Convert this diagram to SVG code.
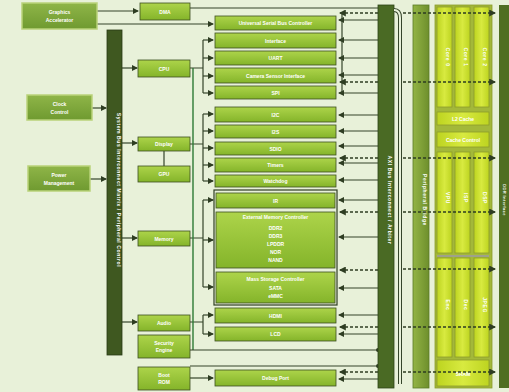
<svg xmlns="http://www.w3.org/2000/svg" width="509" height="392" viewBox="0 0 509 392">
<defs>
<linearGradient id="gBox" x1="0" y1="0" x2="0" y2="1"><stop offset="0" stop-color="#add44a"/><stop offset="1" stop-color="#84b42a"/></linearGradient>
<linearGradient id="gLeft" x1="0" y1="0" x2="0" y2="1"><stop offset="0" stop-color="#8fb548"/><stop offset="1" stop-color="#6f9a30"/></linearGradient>
<linearGradient id="gCol" x1="0" y1="0" x2="1" y2="0"><stop offset="0" stop-color="#bdd420"/><stop offset="0.5" stop-color="#d8ea40"/><stop offset="1" stop-color="#bdd420"/></linearGradient>
<linearGradient id="gMed" x1="0" y1="0" x2="1" y2="0"><stop offset="0" stop-color="#93b445"/><stop offset="1" stop-color="#6e8f2c"/></linearGradient>
<marker id="ar" viewBox="0 0 6 6" refX="5" refY="3" markerWidth="5" markerHeight="5" orient="auto-start-reverse"><path d="M0,0 L6,3 L0,6 z" fill="#2e3d22"/></marker>
<marker id="dt" viewBox="0 0 6 6" refX="3" refY="3" markerWidth="4" markerHeight="4"><circle cx="3" cy="3" r="2.5" fill="#2e3d22"/></marker>
</defs>
<style>
.bx{fill:url(#gBox);stroke:#3d4f22;stroke-width:0.8}
.lb{fill:url(#gLeft);stroke:#b9d27a;stroke-width:1.5}
.t{font-family:"Liberation Sans",Arial,sans-serif;font-size:5px;fill:#ffffff;text-anchor:middle;font-weight:bold}
.tv{font-family:"Liberation Sans",Arial,sans-serif;font-size:5px;fill:#ffffff;text-anchor:middle;font-weight:bold;letter-spacing:0.6px}
.ln{stroke:#35452a;stroke-width:1.2;fill:none}
.gl{stroke:#2d7a34;stroke-width:1.4;fill:none}
.ds{stroke:#2e3d22;stroke-width:1.4;fill:none;stroke-dasharray:3 2}
.col{fill:url(#gCol);stroke:#8c9c2c;stroke-width:0.8}
</style>
<rect width="509" height="392" fill="#e8f1d9"/>

<g id="connectors">
<path class="ln" d="M97,11 H138" marker-end="url(#ar)"/>
<path class="ln" d="M97,24 H213" marker-end="url(#ar)"/>
<path class="ln" d="M190,8 H378"/>
<path class="ln" d="M92,108 H106" marker-end="url(#ar)"/>
<path class="ln" d="M90,179 H106" marker-end="url(#ar)"/>
<path class="ln" d="M122,68 H137" marker-end="url(#ar)"/>
<path class="ln" d="M122,143 H137" marker-end="url(#ar)"/>
<path class="ln" d="M122,238 H137" marker-end="url(#ar)"/>
<path class="ln" d="M122,322 H137" marker-end="url(#ar)"/>
<path class="ln" d="M164,151 V166"/>
<path class="ln" d="M190,68 H203 M203,40 V93"/>
<path class="ln" d="M203,40 H213" marker-end="url(#ar)"/>
<path class="ln" d="M203,58 H213" marker-end="url(#ar)"/>
<path class="ln" d="M203,76 H213" marker-end="url(#ar)"/>
<path class="ln" d="M203,93 H213" marker-end="url(#ar)"/>
<path class="ln" d="M190,144 H203 M203,114 V181"/>
<path class="ln" d="M203,114 H213" marker-end="url(#ar)"/>
<path class="ln" d="M203,131 H213" marker-end="url(#ar)"/>
<path class="ln" d="M203,148 H213" marker-end="url(#ar)"/>
<path class="ln" d="M203,165 H213" marker-end="url(#ar)"/>
<path class="ln" d="M203,181 H213" marker-end="url(#ar)"/>
<path class="ln" d="M190,238 H203 M203,200 V287"/>
<path class="ln" d="M203,200 H213" marker-end="url(#ar)"/>
<path class="ln" d="M203,240 H213" marker-end="url(#ar)"/>
<path class="ln" d="M203,287 H213" marker-end="url(#ar)"/>
<path class="ln" d="M190,322 H203 M203,315 V334"/>
<path class="ln" d="M203,315 H213" marker-end="url(#ar)"/>
<path class="ln" d="M203,334 H213" marker-end="url(#ar)"/>
<path class="gl" d="M193,68 V350"/>
<path class="ln" d="M190,350 H378" marker-end="url(#dt)"/>
<path class="ln" d="M190,366 H378" marker-end="url(#dt)"/>
<path class="ln" d="M190,378 H213" marker-end="url(#ar)"/>
<g>
<path class="ln" d="M378,20 H339" marker-end="url(#ar)"/>
<path class="ln" d="M378,40 H339" marker-end="url(#ar)"/>
<path class="ln" d="M378,58 H339" marker-end="url(#ar)"/>
<path class="ln" d="M378,75 H339" marker-end="url(#ar)"/>
<path class="ln" d="M378,93 H339" marker-end="url(#ar)"/>
<path class="ln" d="M378,115 H339" marker-end="url(#ar)"/>
<path class="ln" d="M378,131 H339" marker-end="url(#ar)"/>
<path class="ln" d="M378,146 H339" marker-end="url(#ar)"/>
<path class="ln" d="M378,163 H339" marker-end="url(#ar)"/>
<path class="ln" d="M378,180 H339" marker-end="url(#ar)"/>
<path class="ln" d="M378,200 H339" marker-end="url(#ar)"/>
<path class="ln" d="M378,237 H339" marker-end="url(#ar)"/>
<path class="ln" d="M378,288 H339" marker-end="url(#ar)"/>
<path class="ln" d="M378,315 H339" marker-end="url(#ar)"/>
<path class="ln" d="M378,334 H339" marker-end="url(#ar)"/>
<path class="ln" d="M378,379 H339" marker-end="url(#ar)"/>
<path class="ln" d="M342,13 V93"/>
</g>
<g>
<path class="ds" d="M378,13 H340" marker-end="url(#ar)"/>
<path class="ds" d="M378,82 H340" marker-end="url(#ar)"/>
<path class="ds" d="M378,158 H340" marker-end="url(#ar)"/>
<path class="ds" d="M378,212 H340" marker-end="url(#ar)"/>
<path class="ds" d="M378,270 H340" marker-end="url(#ar)"/>
<path class="ds" d="M378,327 H340" marker-end="url(#ar)"/>
<path class="ds" d="M378,372 H340" marker-end="url(#ar)"/>
</g>
</g>

<g id="leftA"><rect class="lb" x="22" y="3" width="75" height="26"/><text class="t" x="59.5" y="14">Graphics</text><text class="t" x="59.5" y="22">Accelerator</text></g>
<g id="leftB"><rect class="lb" x="27" y="95" width="65" height="25"/><text class="t" x="59.5" y="106">Clock</text><text class="t" x="59.5" y="114">Control</text></g>
<g id="leftC"><rect class="lb" x="28" y="166" width="62" height="25"/><text class="t" x="59" y="177">Power</text><text class="t" x="59" y="185">Management</text></g>

<g id="sysbus"><rect x="107" y="30" width="15" height="325" fill="#3f5820" stroke="#2a3a16" stroke-width="0.8"/><text class="tv" transform="translate(116.5,190) rotate(90)">System Bus Interconnect Matrix / Peripheral Control</text></g>

<g id="smD"><rect class="bx" x="140" y="3" width="50" height="17"/><text class="t" x="165" y="13.5">DMA</text></g>
<g id="smE"><rect class="bx" x="138" y="60" width="52" height="17"/><text class="t" x="164" y="70.5">CPU</text></g>
<g id="smF"><rect class="bx" x="138" y="137" width="52" height="14"/><text class="t" x="164" y="146">Display</text></g>
<g id="smG"><rect class="bx" x="138" y="166" width="52" height="16"/><text class="t" x="164" y="175.5">GPU</text></g>
<g id="smH"><rect class="bx" x="138" y="231" width="52" height="15"/><text class="t" x="164" y="240.5">Memory</text></g>
<g id="smI"><rect class="bx" x="138" y="315" width="52" height="16"/><text class="t" x="164" y="324.5">Audio</text></g>
<g id="smJ"><rect class="bx" x="138" y="335" width="52" height="23"/><text class="t" x="164" y="345">Security</text><text class="t" x="164" y="352">Engine</text></g>
<g id="smK"><rect class="bx" x="138" y="367" width="52" height="23"/><text class="t" x="164" y="377">Boot</text><text class="t" x="164" y="384">ROM</text></g>

<g id="c1"><rect class="bx" x="215" y="16" width="121" height="14"/><text class="t" x="275.5" y="25">Universal Serial Bus Controller</text></g>
<g id="c2"><rect class="bx" x="215" y="33" width="121" height="15"/><text class="t" x="275.5" y="42.5">Interface</text></g>
<g id="c3"><rect class="bx" x="215" y="51" width="121" height="14"/><text class="t" x="275.5" y="60">UART</text></g>
<g id="c4"><rect class="bx" x="215" y="68" width="121" height="15"/><text class="t" x="275.5" y="77.5">Camera Sensor Interface</text></g>
<g id="c5"><rect class="bx" x="215" y="86" width="121" height="13"/><text class="t" x="275.5" y="94.5">SPI</text></g>
<g id="c6"><rect class="bx" x="215" y="107" width="121" height="15"/><text class="t" x="275.5" y="116.5">I2C</text></g>
<g id="c7"><rect class="bx" x="215" y="125" width="121" height="13"/><text class="t" x="275.5" y="133.5">I2S</text></g>
<g id="c8"><rect class="bx" x="215" y="142" width="121" height="13"/><text class="t" x="275.5" y="150.5">SDIO</text></g>
<g id="c9"><rect class="bx" x="215" y="158" width="121" height="14"/><text class="t" x="275.5" y="167">Timers</text></g>
<g id="c10"><rect class="bx" x="215" y="175" width="121" height="12"/><text class="t" x="275.5" y="183">Watchdog</text></g>
<g id="memgroup"><rect x="214" y="190" width="123" height="115" fill="none" stroke="#2e3d22" stroke-width="1.2"/>
<rect class="bx" x="216" y="193" width="119" height="15"/><text class="t" x="275.5" y="202.5">IR</text>
<rect class="bx" x="216" y="212" width="119" height="56"/><text class="t" x="275.5" y="219">External Memory Controller</text><text class="t" x="275.5" y="230">DDR2</text><text class="t" x="275.5" y="238">DDR3</text><text class="t" x="275.5" y="246">LPDDR</text><text class="t" x="275.5" y="254">NOR</text><text class="t" x="275.5" y="262">NAND</text>
<rect class="bx" x="216" y="272" width="119" height="31"/><text class="t" x="275.5" y="281">Mass Storage Controller</text><text class="t" x="275.5" y="290">SATA</text><text class="t" x="275.5" y="298">eMMC</text></g>
<g id="c11"><rect class="bx" x="215" y="308" width="121" height="15"/><text class="t" x="275.5" y="317.5">HDMI</text></g>
<g id="c12"><rect class="bx" x="215" y="327" width="121" height="14"/><text class="t" x="275.5" y="336">LCD</text></g>
<g id="c13"><rect class="bx" x="215" y="370" width="121" height="16"/><text class="t" x="275.5" y="380">Debug Port</text></g>

<g id="axibus"><rect x="378" y="5" width="16" height="383" fill="#4a6a24" stroke="#2e4418" stroke-width="0.8"/><text class="tv" transform="translate(387.5,200) rotate(90)">AXI Bus Interconnect / Arbiter</text></g>
<g id="link"><path d="M394,10 Q400,10 400,18 V384" fill="none" stroke="#35452a" stroke-width="4"/><path d="M394,10 Q400,10 400,18 V384" fill="none" stroke="#e8f1d9" stroke-width="2"/></g>
<g id="bridge"><rect x="413" y="5" width="16" height="383" fill="url(#gMed)" stroke="#5a7a26" stroke-width="0.8"/><text class="tv" transform="translate(422.5,200) rotate(90)">Peripheral Bridge</text></g>

<g id="cpucluster">
<rect x="435" y="5" width="57" height="383" fill="#a3b83a" stroke="#8a9c2c" stroke-width="0.8"/>
<rect class="col" x="437" y="7" width="15" height="100"/><rect class="col" x="455" y="7" width="15" height="100"/><rect class="col" x="474" y="7" width="15" height="100"/>
<text class="tv" transform="translate(446,57) rotate(90)">Core 0</text><text class="tv" transform="translate(464,57) rotate(90)">Core 1</text><text class="tv" transform="translate(483,57) rotate(90)">Core 2</text>
<rect class="col" x="437" y="112" width="52" height="13"/><text class="t" x="463" y="120.5">L2 Cache</text>
<rect class="col" x="437" y="132" width="52" height="15"/><text class="t" x="463" y="141.5">Cache Control</text>
<rect class="col" x="437" y="152" width="15" height="101"/><rect class="col" x="455" y="152" width="15" height="101"/><rect class="col" x="474" y="152" width="15" height="101"/>
<text class="tv" transform="translate(446,198) rotate(90)">VPU</text><text class="tv" transform="translate(464,198) rotate(90)">ISP</text><text class="tv" transform="translate(483,198) rotate(90)">DSP</text>
<path d="M437,256 H489" stroke="#9a8ad8" stroke-width="1"/>
<rect class="col" x="437" y="258" width="15" height="99"/><rect class="col" x="455" y="258" width="15" height="99"/><rect class="col" x="474" y="258" width="15" height="99"/>
<text class="tv" transform="translate(446,305) rotate(90)">Enc</text><text class="tv" transform="translate(464,305) rotate(90)">Dec</text><text class="tv" transform="translate(483,305) rotate(90)">JPEG</text>
<rect class="col" x="437" y="360" width="52" height="26"/><text class="t" x="463" y="376">SRAM</text>
</g>
<g id="ddrbus"><rect x="499" y="5" width="12" height="383" fill="#4f6e22"/><text class="tv" style="font-size:4px;letter-spacing:0.4px" transform="translate(502.5,200) rotate(90)">DDR Interface</text></g>

<g id="dashright">
<path class="ds" d="M403,13 H495" marker-end="url(#ar)"/>
<path class="ds" d="M403,82 H495" marker-end="url(#ar)"/>
<path class="ds" d="M403,158 H495" marker-end="url(#ar)"/>
<path class="ds" d="M403,212 H495" marker-end="url(#ar)"/>
<path class="ds" d="M403,269 H495" marker-end="url(#ar)"/>
<path class="ds" d="M403,327 H495" marker-end="url(#ar)"/>
<path class="ds" d="M403,372 H495" marker-end="url(#ar)"/>
</g>
</svg>
